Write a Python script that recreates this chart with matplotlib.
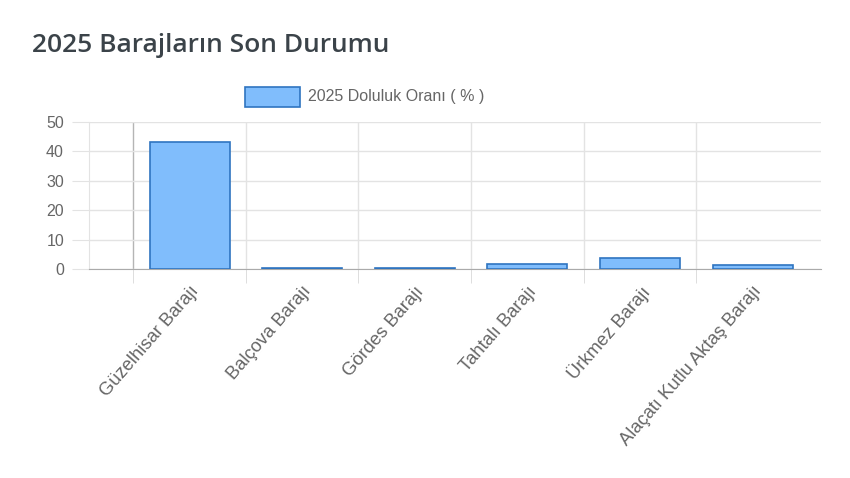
# 2025 Barajların Son Durumu - doluluk oranları

import numpy as np
import matplotlib.pyplot as plt
from matplotlib.patches import Rectangle

plt.rcParams['font.family'] = ['Liberation Sans', 'DejaVu Sans']

# veriler
barajlar = ['Güzelhisar Barajı', 'Balçova Barajı', 'Gördes Barajı',
            'Tahtalı Barajı', 'Ürkmez Barajı', 'Alaçatı Kutlu Aktaş Barajı']
doluluk = [43.1, 0.2, 0.2, 1.7, 3.8, 1.2]
y_ticks = [0, 10, 20, 30, 40, 50]

fig = plt.figure(figsize=(8.5, 4.78), dpi=100)
ax = fig.add_axes([89 / 850, 1 - 269 / 478, 732 / 850, 147 / 478])

x = np.arange(len(barajlar))
ax.bar(x, doluluk, width=0.71, color='#80bdfc', edgecolor='#2f74c0', linewidth=1.2, zorder=3)

# eksen ayarları
ax.set_xlim(-0.893, 5.608)
ax.set_ylim(0, 50)
ax.set_yticks(y_ticks)
ax.yaxis.grid(True, color='#e3e3e3', linewidth=1, zorder=0)
ax.tick_params(axis='y', length=12, color='#e3e3e3', pad=6, labelsize=11.5, labelcolor='#666666')

# kategori sınırları (dikey ızgara)
sinirlar = np.arange(len(barajlar) - 1) - 0.5 + 1
ax.set_xticks(np.r_[-0.5, sinirlar], minor=True)
for b in sinirlar:
    ax.axvline(b, color='#e3e3e3', linewidth=1, zorder=0)
ax.axvline(-0.5, color='#b5b5b5', linewidth=1, zorder=1)
ax.tick_params(axis='x', which='minor', length=10, color='#d8d8d8')

ax.set_xticks(x)
ax.set_xticklabels(barajlar, rotation=49, ha='right', va='top', rotation_mode='anchor',
                   fontsize=13.2, color='#666666')
ax.tick_params(axis='x', which='major', length=0, pad=10)

for s in ['top', 'right']:
    ax.spines[s].set_visible(False)
ax.spines['left'].set_color('#e3e3e3')
ax.spines['bottom'].set_color('#aaaaaa')

# başlık
fig.text(32 / 850, 1 - 52 / 478, '2025 Barajların Son Durumu', fontsize=19, fontweight='semibold',
         color='#3b4349', family=['Open Sans', 'DejaVu Sans'])

# lejant
fig.patches.append(Rectangle((245 / 850, 1 - 107 / 478), 55 / 850, 20 / 478,
                             transform=fig.transFigure, facecolor='#80bdfc',
                             edgecolor='#2f74c0', linewidth=1.2))
fig.text(308 / 850, 1 - 97 / 478, '2025 Doluluk Oranı ( % )', fontsize=11.5,
         color='#666666', va='center')

fig.savefig('out.png', dpi=100, facecolor='white')
